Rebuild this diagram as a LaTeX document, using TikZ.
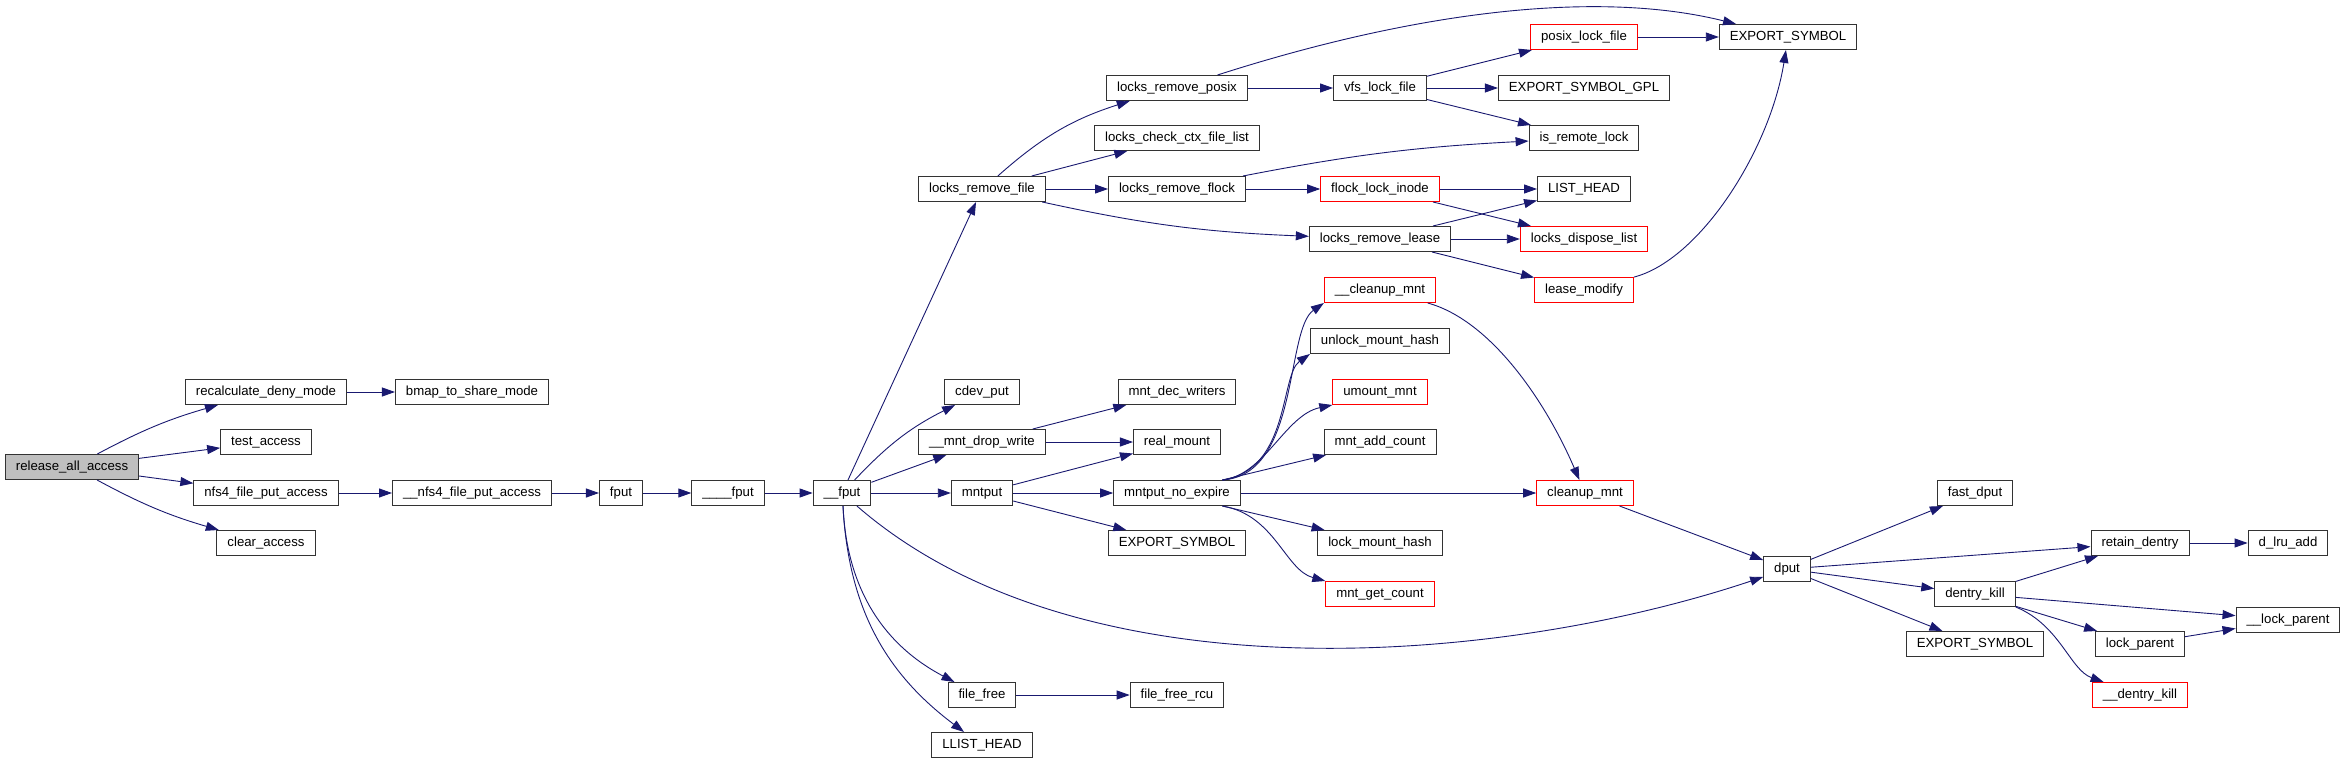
\documentclass[tikz,border=0pt]{standalone}
\usepackage{fontspec}
\setmainfont{Liberation Sans}
\usepackage{xcolor}
\usetikzlibrary{arrows.meta}

\definecolor{callblue}{HTML}{191970}
\definecolor{rootgray}{HTML}{BFBFBF}

\begin{document}
\begin{tikzpicture}[
	x=1pt, y=-1pt,
	% --- Styles ---
	fnblock/.style={
		rectangle, draw=black!80, line width=1pt, fill=white,
		minimum height=25pt, inner xsep=10.5pt, inner ysep=0pt,
		text height=10pt, text depth=3pt, font=\fontsize{13.2}{15}\selectfont
	},
	redblock/.style={fnblock, draw=red},
	rootblock/.style={fnblock, fill=rootgray},
	call/.style={
		draw, line width=0.9pt, color=callblue, -{Triangle[length=13pt, width=9pt]}
	}
	]
	
	\useasboundingbox (0,0) rectangle (2345,765);
	
	% --- 1. Caller and first calls ---
	\node [rootblock] (release_all_access) at (72,467) {release\_all\_access};
	\node [fnblock] (recalculate_deny_mode) at (266,392) {recalculate\_deny\_mode};
	\node [fnblock] (test_access) at (266,442) {test\_access};
	\node [fnblock] (nfs4_file_put_access) at (266,493) {nfs4\_file\_put\_access};
	\node [fnblock] (clear_access) at (266,543) {clear\_access};
	\node [fnblock] (bmap_to_share_mode) at (472,392) {bmap\_to\_share\_mode};
	\node [fnblock] (uu_nfs4_file_put_access) at (472,493) {\_\_nfs4\_file\_put\_access};
	
	% --- 2. fput chain ---
	\node [fnblock] (fput) at (621,493) {fput};
	\node [fnblock] (uuuu_fput) at (728,493) {\_\_\_\_fput};
	\node [fnblock] (uu_fput) at (842,493) {\_\_fput};
	
	% --- 3. Called from __fput ---
	\node [fnblock] (locks_remove_file) at (982,189) {locks\_remove\_file};
	\node [fnblock] (cdev_put) at (982,392) {cdev\_put};
	\node [fnblock] (uu_mnt_drop_write) at (982,442) {\_\_mnt\_drop\_write};
	\node [fnblock] (mntput) at (982,493) {mntput};
	\node [fnblock] (file_free) at (982,695) {file\_free};
	\node [fnblock] (llist_head) at (982,745) {LLIST\_HEAD};
	
	% --- 4. Next column ---
	\node [fnblock] (locks_remove_posix) at (1177,88) {locks\_remove\_posix};
	\node [fnblock] (locks_check_ctx_file_list) at (1177,138) {locks\_check\_ctx\_file\_list};
	\node [fnblock] (locks_remove_flock) at (1177,189) {locks\_remove\_flock};
	\node [fnblock] (mnt_dec_writers) at (1177,392) {mnt\_dec\_writers};
	\node [fnblock] (real_mount) at (1177,442) {real\_mount};
	\node [fnblock] (mntput_no_expire) at (1177,493) {mntput\_no\_expire};
	\node [fnblock] (export_mid) at (1177,543) {EXPORT\_SYMBOL};
	\node [fnblock] (file_free_rcu) at (1177,695) {file\_free\_rcu};
	
	% --- 5. Locks and mount helpers ---
	\node [fnblock] (vfs_lock_file) at (1380,88) {vfs\_lock\_file};
	\node [redblock] (flock_lock_inode) at (1380,189) {flock\_lock\_inode};
	\node [fnblock] (locks_remove_lease) at (1380,239) {locks\_remove\_lease};
	\node [redblock] (uu_cleanup_mnt) at (1380,290) {\_\_cleanup\_mnt};
	\node [fnblock] (unlock_mount_hash) at (1380,341) {unlock\_mount\_hash};
	\node [redblock] (umount_mnt) at (1380,392) {umount\_mnt};
	\node [fnblock] (mnt_add_count) at (1380,442) {mnt\_add\_count};
	\node [fnblock] (lock_mount_hash) at (1380,543) {lock\_mount\_hash};
	\node [redblock] (mnt_get_count) at (1380,594) {mnt\_get\_count};
	
	\node [redblock] (posix_lock_file) at (1584,37) {posix\_lock\_file};
	\node [fnblock] (export_gpl) at (1584,88) {EXPORT\_SYMBOL\_GPL};
	\node [fnblock] (is_remote_lock) at (1584,138) {is\_remote\_lock};
	\node [fnblock] (list_head) at (1584,189) {LIST\_HEAD};
	\node [redblock] (locks_dispose_list) at (1584,239) {locks\_dispose\_list};
	\node [redblock] (lease_modify) at (1584,290) {lease\_modify};
	\node [redblock] (cleanup_mnt) at (1585,493) {cleanup\_mnt};
	
	% --- 6. dput and its callees ---
	\node [fnblock] (export_top) at (1788,37) {EXPORT\_SYMBOL};
	\node [fnblock] (dput) at (1787,569) {dput};
	\node [fnblock] (fast_dput) at (1975,493) {fast\_dput};
	\node [fnblock] (dentry_kill) at (1975,594) {dentry\_kill};
	\node [fnblock] (export_bot) at (1975,644) {EXPORT\_SYMBOL};
	\node [fnblock] (retain_dentry) at (2140,543) {retain\_dentry};
	\node [fnblock] (lock_parent) at (2140,644) {lock\_parent};
	\node [redblock] (uu_dentry_kill) at (2140,695) {\_\_dentry\_kill};
	\node [fnblock] (d_lru_add) at (2288,543) {d\_lru\_add};
	\node [fnblock] (uu_lock_parent) at (2288,620) {\_\_lock\_parent};
	
	% --- Connections from release_all_access ---
	\draw [call] (release_all_access) to[bend left=6] (recalculate_deny_mode);
	\draw [call] (release_all_access) -- (test_access);
	\draw [call] (release_all_access) -- (nfs4_file_put_access);
	\draw [call] (release_all_access) to[bend right=6] (clear_access);
	\draw [call] (recalculate_deny_mode) -- (bmap_to_share_mode);
	\draw [call] (nfs4_file_put_access) -- (uu_nfs4_file_put_access);
	\draw [call] (uu_nfs4_file_put_access) -- (fput);
	\draw [call] (fput) -- (uuuu_fput);
	\draw [call] (uuuu_fput) -- (uu_fput);
	
	% --- Connections from __fput ---
	\draw [call] (uu_fput) -- (locks_remove_file);
	\draw [call] (uu_fput) to[bend left=10] (cdev_put);
	\draw [call] (uu_fput) -- (uu_mnt_drop_write);
	\draw [call] (uu_fput) -- (mntput);
	\draw [call] (uu_fput) .. controls (1080,700) and (1500,665) .. (dput);
	\draw [call] (uu_fput) to[bend right=30] (file_free);
	\draw [call] (uu_fput) to[bend right=25] (llist_head);
	
	% --- Locks branch ---
	\draw [call] (locks_remove_file) to[bend left=12] (locks_remove_posix);
	\draw [call] (locks_remove_file) -- (locks_check_ctx_file_list);
	\draw [call] (locks_remove_file) -- (locks_remove_flock);
	\draw [call] (locks_remove_file) to[bend right=5] (locks_remove_lease);
	\draw [call] (locks_remove_posix) .. controls (1420,10) and (1600,-10) .. (export_top);
	\draw [call] (locks_remove_posix) -- (vfs_lock_file);
	\draw [call] (vfs_lock_file) -- (posix_lock_file);
	\draw [call] (vfs_lock_file) -- (export_gpl);
	\draw [call] (vfs_lock_file) -- (is_remote_lock);
	\draw [call] (posix_lock_file) -- (export_top);
	\draw [call] (locks_remove_flock) to[bend left=4] (is_remote_lock);
	\draw [call] (locks_remove_flock) -- (flock_lock_inode);
	\draw [call] (flock_lock_inode) -- (list_head);
	\draw [call] (flock_lock_inode) -- (locks_dispose_list);
	\draw [call] (locks_remove_lease) -- (list_head);
	\draw [call] (locks_remove_lease) -- (locks_dispose_list);
	\draw [call] (locks_remove_lease) -- (lease_modify);
	\draw [call] (lease_modify) .. controls (1700,260) and (1770,150) .. (export_top);
	
	% --- Mount branch ---
	\draw [call] (uu_mnt_drop_write) -- (mnt_dec_writers);
	\draw [call] (uu_mnt_drop_write) -- (real_mount);
	\draw [call] (mntput) -- (real_mount);
	\draw [call] (mntput) -- (mntput_no_expire);
	\draw [call] (mntput) -- (export_mid);
	\draw [call] (mntput_no_expire.16) .. controls (1300,475) and (1285,330) .. (uu_cleanup_mnt.south west);
	\draw [call] (mntput_no_expire.16) .. controls (1290,470) and (1280,375) .. (unlock_mount_hash.south west);
	\draw [call] (mntput_no_expire.16) .. controls (1265,475) and (1285,415) .. (umount_mnt.south west);
	\draw [call] (mntput_no_expire.16) -- (mnt_add_count);
	\draw [call] (mntput_no_expire) -- (cleanup_mnt);
	\draw [call] (mntput_no_expire.-16) -- (lock_mount_hash);
	\draw [call] (mntput_no_expire.-16) .. controls (1275,515) and (1285,570) .. (mnt_get_count.north west);
	\draw [call] (uu_cleanup_mnt) .. controls (1490,320) and (1545,400) .. (cleanup_mnt);
	\draw [call] (cleanup_mnt) -- (dput);
	
	% --- dput branch ---
	\draw [call] (dput) -- (fast_dput);
	\draw [call] (dput) -- (retain_dentry);
	\draw [call] (dput) -- (dentry_kill);
	\draw [call] (dput) -- (export_bot);
	\draw [call] (retain_dentry) -- (d_lru_add);
	\draw [call] (dentry_kill) -- (retain_dentry);
	\draw [call] (dentry_kill) -- (uu_lock_parent);
	\draw [call] (dentry_kill) -- (lock_parent);
	\draw [call] (dentry_kill.south east) .. controls (2060,625) and (2070,670) .. (uu_dentry_kill);
	\draw [call] (lock_parent) -- (uu_lock_parent);
	\draw [call] (file_free) -- (file_free_rcu);
	
\end{tikzpicture}
\end{document}
